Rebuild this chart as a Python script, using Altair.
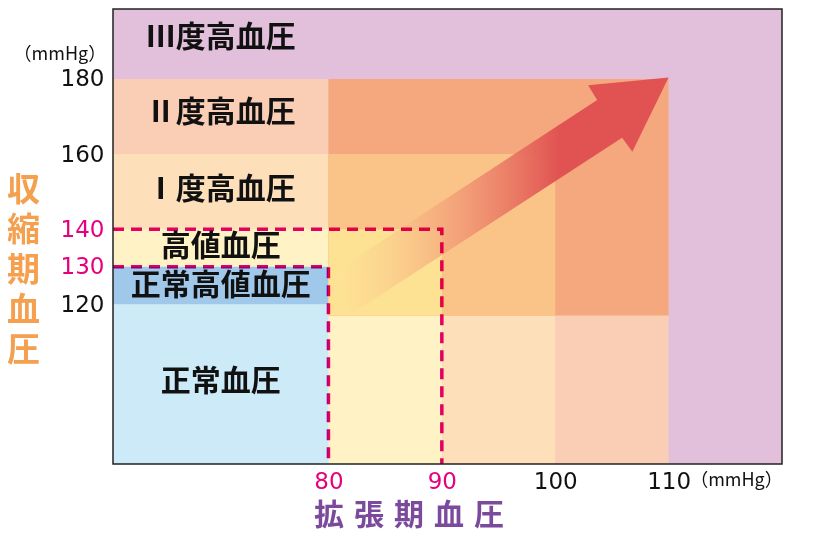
import altair as alt
import pandas as pd

# ---- classification zones (diastolic x, systolic y) ----
zone_names = ["Ⅲ度高血圧域", "Ⅱ度高血圧域", "Ⅰ度高血圧域", "高値血圧域", "正常血圧域",
              "正常高値血圧域", "Ⅱ度(拡張期)", "Ⅰ度(拡張期)", "高値(拡張期)"]
zone_x0 = [61, 61, 61, 61, 61, 61, 80, 80, 80]
zone_x1 = [120, 110, 100, 90, 80, 80, 110, 100, 90]
zone_y0 = [77.5, 77.5, 77.5, 77.5, 77.5, 120, 117, 117, 117]
zone_y1 = [198.6, 180, 160, 140, 120, 130, 180, 160, 140]
zone_colors = ["#e2c0db", "#f9ceb4", "#fddfba", "#fff2c4", "#cdeaf9",
               "#9fc8eb", "#f5a77d", "#fac489", "#fee294"]

# ---- zone labels ----
label_text = ["Ⅲ度高血圧", "Ⅱ度高血圧", "Ⅰ度高血圧", "高値血圧", "正常高値血圧", "正常血圧"]
label_x = [70.5, 70.5, 70.5, 70.5, 70.5, 70.5]
label_y = [191.0, 170.8, 150.5, 135.2, 124.8, 99.3]

# ---- dashed boundary lines ----
dash_x = [61, 90, 90, 61, 80, 80]
dash_y = [140, 140, 77.5, 130, 130, 77.5]
dash_group = ["140/90", "140/90", "140/90", "130/80", "130/80", "130/80"]
dash_order = [0, 1, 2, 0, 1, 2]

# ---- arrow outline ----
arrow_x = [80.7, 103.7, 102.9, 110.0, 106.8, 105.9, 82.1]
arrow_y = [129.0, 174.4, 178.3, 180.4, 160.6, 164.3, 117.6]
arrow_order = [0, 1, 2, 3, 4, 5, 6]

# ---- axes ----
x_ticks = [80, 90, 100, 110]
y_ticks = [120, 130, 140, 160, 180]
x_domain = [61, 120]
y_domain = [77.5, 198.6]

unit_text = ["（mmHg）", "（mmHg）"]
unit_x = [60.4, 111.9]
unit_y = [186.4, 73.1]

MAGENTA = "#e5007e"
CJK = "Noto Sans CJK JP"

zones = pd.DataFrame({"name": zone_names, "x": zone_x0, "x2": zone_x1,
                      "y": zone_y0, "y2": zone_y1, "c": zone_colors})
labels = pd.DataFrame({"t": label_text, "x": label_x, "y": label_y})
dashes = pd.DataFrame({"x": dash_x, "y": dash_y, "g": dash_group, "o": dash_order})
arrow = pd.DataFrame({"x": arrow_x, "y": arrow_y, "o": arrow_order})
units_l = pd.DataFrame({"t": unit_text[:1], "x": unit_x[:1], "y": unit_y[:1]})
units_r = pd.DataFrame({"t": unit_text[1:], "x": unit_x[1:], "y": unit_y[1:]})

xs = alt.Scale(domain=x_domain, nice=False, zero=False)
ys = alt.Scale(domain=y_domain, nice=False, zero=False)

xaxis = alt.Axis(values=x_ticks, title="拡\u2004張\u2004期\u2004血\u2004圧",
                 titleFont=CJK, titleFontSize=30, titleFontWeight="bold",
                 titleColor="#7b4a9c", titleX=295.5, titleY=51, titleBaseline="middle",
                 labelFont="DejaVu Sans", labelFontSize=23,
                 labelColor={"expr": "datum.value <= 90 ? '%s' : '#111111'" % MAGENTA},
                 labelPadding=6, ticks=False, domain=False, grid=False,
                 labelOverlap=False, labelFlush=False)
yaxis = alt.Axis(values=y_ticks, title=["収", "縮", "期", "血", "圧"], titleAngle=0,
                 titleFont=CJK, titleFontSize=33, titleFontWeight="bold",
                 titleLineHeight=40, titleColor="#f4a04f",
                 titleX=-90, titleY=165, titleBaseline="top", titleAlign="center",
                 labelFont="DejaVu Sans", labelFontSize=23,
                 labelColor={"expr": "datum.value == 130 || datum.value == 140 ? '%s' : '#111111'" % MAGENTA},
                 labelPadding=9, ticks=False, domain=False, grid=False, labelOverlap=False)


def X(field="x"):
    return alt.X(f"{field}:Q", scale=xs, axis=xaxis)


def Y(field="y"):
    return alt.Y(f"{field}:Q", scale=ys, axis=yaxis)


rects = alt.Chart(zones).mark_rect(strokeWidth=0).encode(
    x=X(), x2="x2:Q", y=Y(), y2="y2:Q", color=alt.Color("c:N", scale=None)
)

arrow_layer = alt.Chart(arrow).mark_line(
    strokeWidth=0,
    fill=alt.LinearGradient(
        gradient="linear",
        stops=[
            alt.GradientStop(color="rgba(254,226,150,0.25)", offset=0),
            alt.GradientStop(color="rgba(241,150,115,0.8)", offset=0.38),
            alt.GradientStop(color="#e05352", offset=0.67),
            alt.GradientStop(color="#e05352", offset=1),
        ],
        x1=0, x2=1, y1=0, y2=0,
    ),
).encode(x=X(), y=Y(), order="o:Q")

dash_layer = alt.Chart(dashes).mark_line(
    color=MAGENTA, strokeWidth=3.5, strokeDash=[11, 7], blend="multiply"
).encode(x=X(), y=Y(), detail="g:N", order="o:Q")

text_layer = alt.Chart(labels).mark_text(
    font=CJK, fontSize=30, fontWeight="bold", color="#111111", align="center", baseline="middle"
).encode(x=X(), y=Y(), text="t:N")

unit_l = alt.Chart(units_l).mark_text(
    font=CJK, fontSize=18, color="#111111", align="right", baseline="middle"
).encode(x=X(), y=Y(), text="t:N")
unit_r = alt.Chart(units_r).mark_text(
    font=CJK, fontSize=18, color="#111111", align="left", baseline="middle"
).encode(x=X(), y=Y(), text="t:N")

border = alt.Chart(zones.iloc[:1]).mark_rect(
    filled=False, color="#222222", strokeWidth=1.5
).encode(x=X(), x2="x2:Q", y=Y(), y2="y2:Q")

chart = alt.layer(
    rects, arrow_layer, dash_layer, text_layer, unit_l, unit_r, border
).properties(
    width=669, height=455,
    autosize=alt.AutoSizeParams(type="none"),
    padding={"left": 105, "top": 1, "right": 27, "bottom": 68},
).configure_view(strokeWidth=0)

chart.save("out.html", embed_options={"renderer": "svg", "actions": False})
